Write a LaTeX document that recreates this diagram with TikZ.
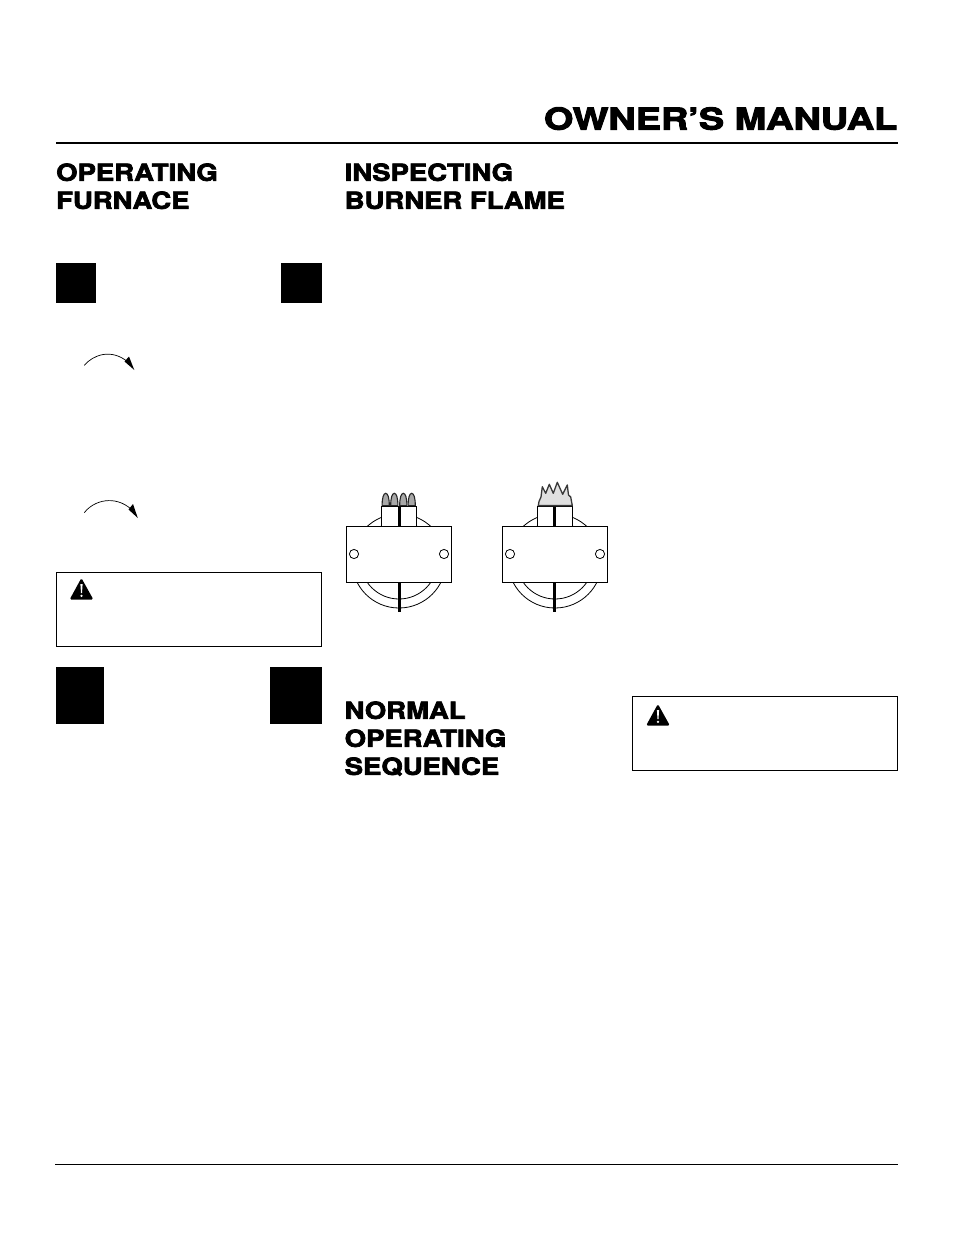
\documentclass[tikz,border=0pt]{standalone}
\usepackage{fontspec}
\newfontfamily\headfont[FakeStretch=1.17,FakeBold=3]{TeX Gyre Heros Bold}
\newfontfamily\titlefont[FakeStretch=1.262,FakeBold=3.4]{TeX Gyre Heros Bold}
\tikzset{
  head/.style={anchor=base west,inner sep=0pt,font=\headfont\fontsize{23.5}{28}\selectfont},
  title/.style={anchor=base east,inner sep=0pt,font=\titlefont\fontsize{30}{36}\selectfont},
  blk/.style={fill=black,draw=none},
  warnbox/.style={draw=black,line width=1pt,fill=white},
  thin/.style={draw=black,line width=0.9pt,fill=white},
  ring/.style={draw=black,line width=0.8pt},
  bar/.style={draw=black,line width=3.2pt},
  tongue/.style={draw=black!85,fill=black!34,line width=1.1pt},
  flame/.style={draw=black!78,fill=black!12,line width=1.3pt,line join=round}
}
\newcommand{\warnmark}[2]{%
  \begin{scope}[shift={(#1,#2)}]
    \fill[black,rounded corners=1.6pt] (-0.4,20.6)--(11.4,-1)--(23.4,20.6)--cycle;
    \fill[white] (10.4,5)--(12.6,5)--(12,14.2)--(11,14.2)--cycle;
    \fill[white] (11.5,16.8) circle (1.3);
  \end{scope}}
\newcommand{\burner}[8]{%
  \draw[ring] (#1,561) circle (47);
  \draw[ring] (#1,560.4) circle (38.6);
  \draw[thin] (#4,506) rectangle (#5,526.3);
  \draw[thin] (#2,526.3) rectangle (#3,582.3);
  \draw[ring,fill=white] (#7,554) circle (4.6);
  \draw[ring,fill=white] (#8,554) circle (4.6);
  \draw[bar] (#6,506) -- (#6,526);
  \draw[bar] (#6,582.3) -- (#6,612);
}
\begin{document}
\begin{tikzpicture}[x=1pt,y=-1pt]
\useasboundingbox[fill=white] (0,0) rectangle (954,1235);
% header
\node[title] (ttl) at (897.5,129.5) {OWNER’S MANUAL};
\fill (56,142) rectangle (898,144.2);
% headings
\node[head] (h1a) at (56,180.8) {OPERATING};
\node[head] (h1b) at (56,208.8) {FURNACE};
\node[head] (h2a) at (344.5,180.8) {INSPECTING};
\node[head] (h2b) at (344.5,208.8) {BURNER FLAME};
\node[head] (h3a) at (344.5,718.8) {NORMAL};
\node[head] (h3b) at (344.5,746.8) {OPERATING};
\node[head] (h3c) at (344.5,774.8) {SEQUENCE};
% black blocks
\fill[blk] (56,263) rectangle (96,302.5);
\fill[blk] (281,263) rectangle (322,302.5);
\fill[blk] (56,667) rectangle (104,724);
\fill[blk] (270,667) rectangle (322,724);
% turning arrows
\draw[line width=0.7pt] (84.3,365.3) .. controls (93,355) and (111,348) .. (128,362);
\fill (134.3,370) -- (124.5,361.5) -- (129,356.5) -- cycle;
\draw[line width=0.7pt] (84.3,512.7) .. controls (94,500) and (115,495) .. (131,509);
\fill (137.8,518) -- (128.5,509.5) -- (133,504) -- cycle;
% warning boxes
\draw[warnbox] (56.5,572.5) rectangle (321.8,646.3);
\warnmark{70}{579}
\draw[warnbox] (632.5,696.5) rectangle (897.8,770.3);
\warnmark{646.5}{705}
% burners
\burner{399}{346.3}{451.3}{381.7}{416.7}{399.5}{354}{444}
\burner{555}{502.3}{607.7}{537.3}{572.7}{554.3}{510}{600}
% good flame
\foreach \x in {385.7,394.3,403.3,411.7}
  \draw[tongue] (\x-3.6,505.6) .. controls (\x-3.6,498) and (\x-2.2,493.3) .. (\x,493.3)
     .. controls (\x+2.2,493.3) and (\x+3.6,498) .. (\x+3.6,505.6) -- cycle;
% bad flame
\draw[flame] (538.3,505.6) -- (539,501.5) -- (541,497) -- (542.3,486.7) -- (545.7,493.3) -- (549.3,484.3)
  -- (553.3,493.3) -- (557.3,482.3) -- (562.7,494.3) -- (567.3,485) -- (568.5,495) -- (570.7,497)
  -- (572.3,505.6) -- cycle;
% footer rule
\fill (55,1163.6) rectangle (898,1164.6);
\end{tikzpicture}
\end{document}
